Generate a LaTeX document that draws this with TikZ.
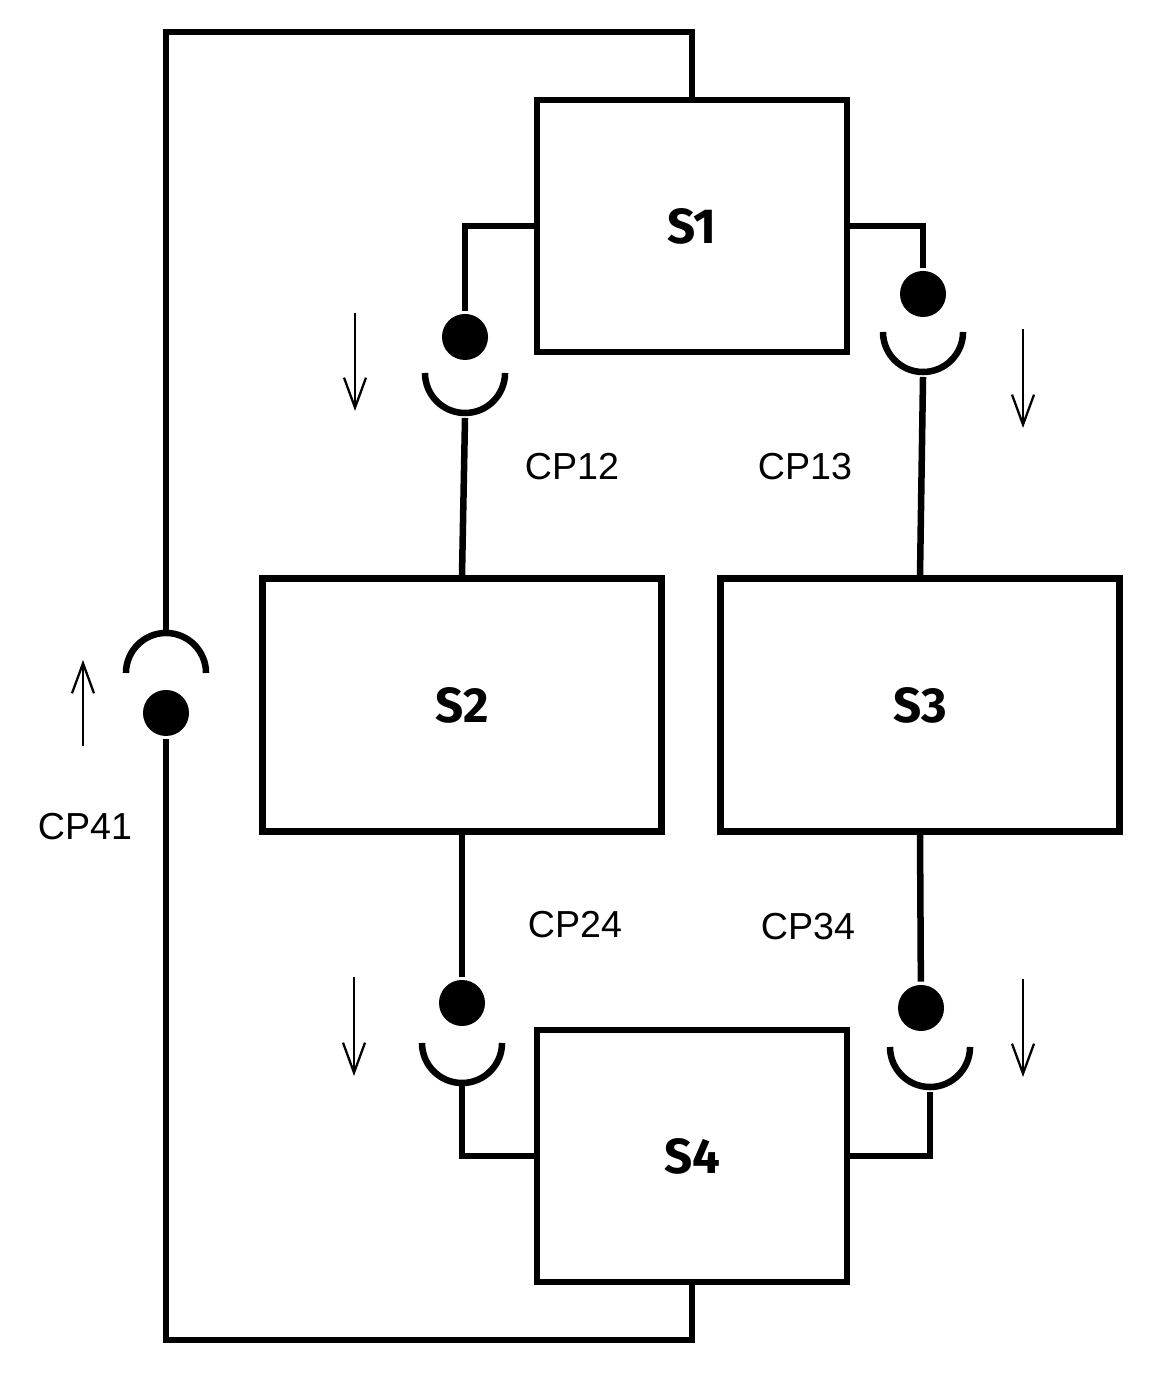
\documentclass[tikz,border=0pt]{standalone}
\usepackage{fontspec}
\setmainfont{Liberation Sans}
\newfontfamily\firabold{Fira Sans}
\usetikzlibrary{arrows.meta}

% socket: centre, start angle, end angle
\newcommand{\copa}[3]{%
  \draw ($(#1)+(#2:0.4cm)$) arc[start angle=#2, end angle=#3, radius=0.4cm];}

\usetikzlibrary{calc}

\begin{document}
\begin{tikzpicture}[x=0.01cm, y=0.01cm, line width=1.85pt,
  font=\fontsize{10.7}{12}\selectfont,
  sistema/.style={draw, minimum width=3.1cm, minimum height=2.52cm, inner sep=0pt,
    font=\firabold\bfseries\fontsize{14}{16}\selectfont},
  ancho/.style={minimum width=3.99cm, minimum height=2.53cm},
  bola/.style={circle, fill, inner sep=0pt, minimum size=0.46cm},
  sentido/.style={line width=0.65pt, -{Straight Barb[length=3mm, width=2.2mm]}}]
  \useasboundingbox (0,0) rectangle (1158,1374);

  % subsystems
  \node[sistema] (s1) at (692,1148) {S1};
  \node[sistema, ancho] (s2) at (462,669) {S2};
  \node[sistema, ancho] (s3) at (920,669) {S3};
  \node[sistema] (s4) at (692,218) {S4};

  % balls
  \node[bola] (b12) at (465,1037) {};
  \node[bola] (b13) at (923,1080) {};
  \node[bola] (b41) at (166,661) {};
  \node[bola] (b24) at (462,371) {};
  \node[bola] (b34) at (921,366) {};

  % sockets
  \coordinate (c12) at (465,1001);
  \coordinate (c13) at (923,1042);
  \coordinate (c41) at (166,701);
  \coordinate (c24) at (462,331);
  \coordinate (c34) at (930,327);
  \copa{c12}{180}{360}
  \copa{c13}{180}{360}
  \copa{c41}{0}{180}
  \copa{c24}{180}{360}
  \copa{c34}{180}{360}
  \coordinate (k12) at (465,956);
  \coordinate (k13) at (923,997);
  \coordinate (k41) at (166,741);
  \coordinate (k24) at (462,288);
  \coordinate (k34) at (930,282);

  % wires
  \draw (s1.west) -| (b12);
  \draw (k12) -- (s2.north);
  \draw (s1.east) -| (b13);
  \draw (k13) -- (s3.north);
  \draw (s2.south) -- (b24);
  \draw (k24) |- (s4.west);
  \draw (s3.south) -- (b34);
  \draw (k34) |- (s4.east);
  \coordinate (tl) at (166,1342);
  \coordinate (bl) at (166,34);
  \draw (s1.north) |- (tl) -- (k41);
  \draw (b41) -- (bl) -| (s4.south);

  % directions
  \draw[sentido] (355,1061) -- (355,963);
  \draw[sentido] (1023,1045) -- (1023,946);
  \draw[sentido] (83,628) -- (83,714);
  \draw[sentido] (354,397) -- (354,298);
  \draw[sentido] (1023,395) -- (1023,297);

  % labels
  \node (l12) at (572,907) {CP12};
  \node (l13) at (805,907) {CP13};
  \node (l24) at (575,449) {CP24};
  \node (l34) at (808,447) {CP34};
  \node (l41) at (85,547) {CP41};
\end{tikzpicture}
\end{document}
